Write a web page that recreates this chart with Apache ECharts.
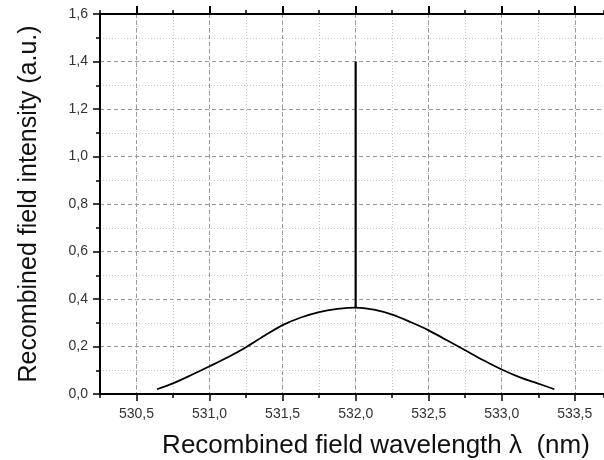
<!DOCTYPE html>
<html><head><meta charset="utf-8">
<script src="https://cdn.jsdelivr.net/npm/echarts@6/dist/echarts.min.js"></script>
<style>html,body{margin:0;padding:0;background:#fff}#c{width:604px;height:460px}</style>
</head><body><div id="c"></div>
<script>
var wavelength = [530.64, 530.75, 530.875, 531.0, 531.125, 531.25, 531.375, 531.5, 531.625, 531.75, 531.875, 532.0, 532.125, 532.25, 532.375, 532.5, 532.625, 532.75, 532.875, 533.0, 533.125, 533.25, 533.36];
var intensity  = [0.020, 0.045, 0.080, 0.117, 0.155, 0.197, 0.245, 0.290, 0.322, 0.345, 0.358, 0.364, 0.355, 0.334, 0.303, 0.268, 0.226, 0.184, 0.142, 0.103, 0.070, 0.044, 0.020];
var spikeWavelength = [532.0, 532.0];
var spikeIntensity = [0.364, 1.40];
var majorTicksX = [530.5, 531.0, 531.5, 532.0, 532.5, 533.0, 533.5];
var xMin = 530.25, xMax = 533.7;

function fmt(v){ return v.toFixed(1).replace('.', ','); }
var font = 'Liberation Sans, Arial, sans-serif';
var chart = echarts.init(document.getElementById('c'), null, {renderer:'canvas'});
var baseX = {type:'value', min:xMin, max:xMax};
chart.setOption({
  animation:false,
  grid:{left:100, top:14, right:0, bottom:66, containLabel:false, outerBoundsMode:'none'},
  xAxis:[
    Object.assign({}, baseX, {position:'bottom', interval:0.25,
      axisLine:{show:true, lineStyle:{color:'#000', width:2}},
      axisTick:{show:true, inside:false, length:4, lineStyle:{color:'#000', width:1.5}},
      axisLabel:{show:false},
      splitLine:{show:true, lineStyle:{color:'#c8c8c8', type:[1,2], width:1}},
      name:'Recombined field wavelength λ  (nm)', nameLocation:'middle', nameGap:39,
      nameTextStyle:{fontFamily:font, fontSize:26, color:'#111', padding:[0,0,0,48]}
    }),
    Object.assign({}, baseX, {position:'bottom', interval:0.25,
      axisLine:{show:false},
      axisTick:{show:true, inside:false, length:7, customValues:majorTicksX, lineStyle:{color:'#000', width:1.5}},
      axisLabel:{show:true, customValues:majorTicksX, margin:13, formatter:function(v){return fmt(v);}, fontFamily:font, fontSize:14, color:'#333'},
      splitLine:{show:true, lineStyle:{color:'#999', type:[4,3], width:1}}
    }),
    Object.assign({}, baseX, {position:'top', interval:0.25,
      axisLine:{show:true, lineStyle:{color:'#000', width:2}},
      axisTick:{show:true, inside:false, length:4, lineStyle:{color:'#000', width:1.5}},
      axisLabel:{show:false}, splitLine:{show:false}
    }),
    Object.assign({}, baseX, {position:'top', interval:0.25,
      axisLine:{show:false},
      axisTick:{show:true, inside:false, length:8, customValues:majorTicksX, lineStyle:{color:'#000', width:2}},
      axisLabel:{show:false}, splitLine:{show:false}
    })
  ],
  yAxis:[{
    type:'value', min:0, max:1.6, interval:0.2,
    axisLine:{show:true, lineStyle:{color:'#000', width:2}},
    axisTick:{show:true, inside:false, length:7, lineStyle:{color:'#000', width:1.5}},
    minorTick:{show:true, splitNumber:2, length:4, lineStyle:{color:'#000', width:1.5}},
    axisLabel:{margin:12, formatter:function(v){return fmt(v);}, fontFamily:font, fontSize:14, color:'#333'},
    splitLine:{show:true, lineStyle:{color:'#999', type:[4,3], width:1}},
    minorSplitLine:{show:true, lineStyle:{color:'#c8c8c8', type:[1,2], width:1}},
    name:'Recombined field intensity (a.u.)', nameLocation:'middle', nameGap:58,
    nameTextStyle:{fontFamily:font, fontSize:25, color:'#111'}
  }],
  series:[{
    type:'line', xAxisIndex:0, yAxisIndex:0,
    data: wavelength.map(function(x,i){return [x, intensity[i]];}),
    smooth:0.3, showSymbol:false, symbol:'none',
    lineStyle:{color:'#000', width:1.8}
  },{
    type:'line', xAxisIndex:0, yAxisIndex:0,
    data: spikeWavelength.map(function(x,i){return [x, spikeIntensity[i]];}),
    showSymbol:false, symbol:'none',
    lineStyle:{color:'#000', width:2.2}
  }]
});
</script></body></html>
